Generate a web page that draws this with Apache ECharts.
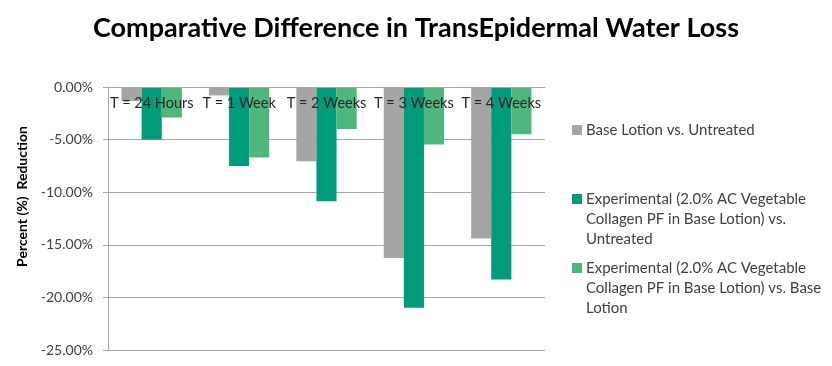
<!DOCTYPE html>
<html><head><meta charset="utf-8">
<script src="https://cdn.jsdelivr.net/npm/echarts@6/dist/echarts.min.js"></script>
<style>html,body{margin:0;padding:0;background:#fff}#c{width:832px;height:366px}</style>
</head><body><div id="c"></div>
<script>
var categories = ['T = 24 Hours', 'T = 1 Week', 'T = 2 Weeks', 'T = 3 Weeks', 'T = 4 Weeks'];
var seriesNames = [
  'Base Lotion vs. Untreated',
  'Experimental (2.0% AC Vegetable Collagen PF in Base Lotion) vs. Untreated',
  'Experimental (2.0% AC Vegetable Collagen PF in Base Lotion) vs. Base Lotion'
];
var legendLines = [
  ['Base Lotion vs. Untreated'],
  ['Experimental (2.0% AC Vegetable', 'Collagen PF in Base Lotion) vs.', 'Untreated'],
  ['Experimental (2.0% AC Vegetable', 'Collagen PF in Base Lotion) vs. Base', 'Lotion']
];
var baseVsUntreated = [-1.33, -0.80, -7.05, -16.25, -14.40];
var expVsUntreated = [-5.00, -7.50, -10.86, -20.98, -18.30];
var expVsBase = [-2.90, -6.70, -4.00, -5.46, -4.48];
var colors = ['#A5A5A5', '#009B7A', '#4FB77E'];

var font = 'Lato, "Open Sans", sans-serif';
var chart = echarts.init(document.getElementById('c'));
var data = [baseVsUntreated, expVsUntreated, expVsBase];
var firstLineY = [130, 199, 268];
var LH = 20;
chart.setOption({
  animation: false,
  title: {
    text: 'Comparative Difference in TransEpidermal Water Loss',
    left: 'center', top: 10,
    textStyle: {fontFamily: font, fontWeight: 'bold', fontSize: 27, color: '#000'}
  },
  legend: seriesNames.map(function (n, i) {
    var lines = legendLines[i];
    var pad = lines.length - 1;
    var txt = new Array(pad + 1).join('\n') + lines.join('\n');
    var total = lines.length + pad;
    return {
      data: [n], orient: 'vertical', left: 567, top: firstLineY[i] - total * LH / 2 - 5,
      itemWidth: 10, itemHeight: 10, itemGap: 0,
      icon: 'rect',
      formatter: function () { return txt; },
      textStyle: {fontFamily: font, fontSize: 15, color: '#404040', lineHeight: LH, padding: [0, 0, 0, -1]}
    };
  }),
  grid: {left: 108, right: 287, top: 87, bottom: 16},
  xAxis: {
    type: 'category', data: categories, position: 'top', z: 5,
    axisLine: {lineStyle: {color: '#A6A6A6', width: 1}},
    axisTick: {length: 5, lineStyle: {color: '#A6A6A6'}},
    axisLabel: {inside: true, interval: 0, fontFamily: font, fontSize: 14.5, color: '#262626', margin: 9}
  },
  yAxis: {
    type: 'value', min: -25, max: 0, interval: 5,
    name: 'Percent (%)  Reduction', nameLocation: 'middle', nameGap: 70,
    nameTextStyle: {fontFamily: font, fontWeight: 'bold', fontSize: 14, color: '#000', padding: [0, 0, 0, 44]},
    axisLine: {show: true, lineStyle: {color: '#A6A6A6'}},
    axisTick: {show: true, length: 5, lineStyle: {color: '#A6A6A6'}},
    splitLine: {lineStyle: {color: '#A6A6A6', width: 1}},
    axisLabel: {fontFamily: font, fontSize: 14, color: '#404040', margin: 15,
      formatter: function (v) { return v.toFixed(2) + '%'; }}
  },
  series: seriesNames.map(function (n, i) {
    return {
      name: n, type: 'bar', data: data[i], barGap: '0%', barCategoryGap: '31%',
      itemStyle: {color: colors[i]}
    };
  })
});
</script></body></html>
